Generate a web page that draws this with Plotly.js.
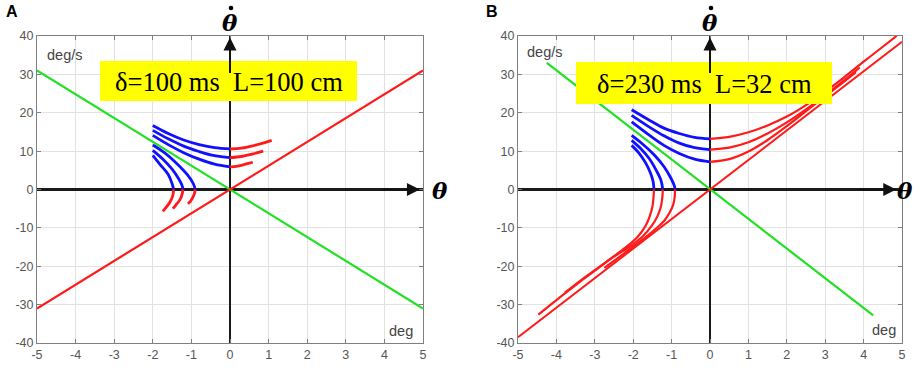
<!DOCTYPE html>
<html>
<head>
<meta charset="utf-8">
<script src="https://cdn.plot.ly/plotly-3.0.1.min.js"></script>
<style>html,body{margin:0;padding:0;background:#fff;}#chart{width:915px;height:372px;}</style>
</head>
<body>
<div id="chart"></div>
<script>
// ---------- Data ----------
// Panel A: straight lines
var A_green_x = [-5, 5];
var A_green_y = [31, -31];
var A_red_x = [-5, 5];
var A_red_y = [-31, 31];

// Panel A: upper blue trajectories (reach theta=0) and red continuations
var A_up1_blue_x = [-2, -1.6, -1.2, -0.8, -0.4, 0];
var A_up1_blue_y = [16.7, 14.6, 12.9, 11.7, 10.9, 10.6];
var A_up1_red_x = [0, 0.3, 0.6, 0.9, 1.08];
var A_up1_red_y = [10.6, 10.8, 11.4, 12.2, 12.8];
var A_up2_blue_x = [-2, -1.6, -1.2, -0.8, -0.4, 0];
var A_up2_blue_y = [15.4, 13.2, 11.3, 9.9, 8.8, 8.3];
var A_up2_red_x = [0, 0.3, 0.6, 0.86];
var A_up2_red_y = [8.3, 8.6, 9.3, 10.0];
var A_up3_blue_x = [-2, -1.6, -1.2, -0.8, -0.4, 0];
var A_up3_blue_y = [14.1, 11.7, 9.6, 7.9, 6.6, 5.9];
var A_up3_red_x = [0, 0.2, 0.4, 0.59];
var A_up3_red_y = [5.9, 6.1, 6.6, 7.1];

// Panel A: lower blue trajectories (turn back) and red continuations
var A_lo1_blue_x = [-2, -1.7, -1.4, -1.1, -0.95, -0.9];
var A_lo1_blue_y = [11.6, 9.6, 7.0, 3.8, 1.5, 0];
var A_lo1_red_x = [-0.9, -0.92, -0.97, -1.02, -1.09];
var A_lo1_red_y = [0, -1.0, -2.2, -3.0, -3.7];
var A_lo2_blue_x = [-2, -1.75, -1.5, -1.33, -1.24, -1.22];
var A_lo2_blue_y = [10.2, 8.0, 5.3, 2.8, 1.0, 0];
var A_lo2_red_x = [-1.22, -1.24, -1.3, -1.4, -1.48];
var A_lo2_red_y = [0, -1.2, -2.7, -4.0, -5.0];
var A_lo3_blue_x = [-2, -1.81, -1.6, -1.5, -1.46];
var A_lo3_blue_y = [8.9, 6.5, 3.9, 1.5, 0];
var A_lo3_red_x = [-1.46, -1.48, -1.55, -1.65, -1.74];
var A_lo3_red_y = [0, -1.5, -3.2, -4.6, -5.7];

// Panel B: straight lines
var B_green_x = [-4.25, 4.25];
var B_green_y = [33, -32.8];
var B_red_x = [-5, 5];
var B_red_y = [-38.5, 38.5];

// Panel B: upper blue trajectories and red continuations
var B_up1_blue_x = [-2.04, -1.6, -1.2, -0.8, -0.4, 0];
var B_up1_blue_y = [20.8, 18.2, 16.0, 14.6, 13.6, 13.2];
var B_up1_red_x = [0, 0.5, 1.0, 1.5, 2.0, 2.5, 3.0, 3.5, 4.0, 4.5, 4.86];
var B_up1_red_y = [13.2, 13.7, 14.9, 16.7, 19.0, 22.0, 25.5, 29.3, 33.3, 37.2, 40];
var B_up2_blue_x = [-2.04, -1.6, -1.2, -0.8, -0.4, 0];
var B_up2_blue_y = [19.3, 16.4, 14.0, 12.1, 10.9, 10.4];
var B_up2_red_x = [0, 0.5, 1.0, 1.5, 2.0, 2.5, 3.0, 3.5, 3.9];
var B_up2_red_y = [10.4, 10.9, 12.3, 14.6, 17.5, 20.9, 24.6, 28.5, 31.8];
var B_up3_blue_x = [-2.04, -1.6, -1.2, -0.8, -0.4, 0];
var B_up3_blue_y = [17.6, 14.3, 11.5, 9.4, 7.9, 7.2];
var B_up3_red_x = [0, 0.5, 1.0, 1.5, 2.0, 2.5, 3.0, 3.5, 3.8];
var B_up3_red_y = [7.2, 7.9, 9.9, 12.9, 16.5, 20.4, 24.3, 28.2, 30.6];

// Panel B: lower blue trajectories and red continuations
var B_lo1_blue_x = [-2.04, -1.75, -1.45, -1.2, -1.02, -0.93, -0.91];
var B_lo1_blue_y = [14.1, 11.8, 9.0, 6.0, 3.0, 1.0, 0];
var B_lo1_red_x = [-0.91, -0.92, -0.96, -1.05, -1.18, -1.33, -1.6, -1.95, -2.35, -2.75];
var B_lo1_red_y = [0, -2, -4, -6, -8, -9.5, -11.8, -14.5, -17.5, -20.4];
var B_lo2_blue_x = [-2.04, -1.8, -1.58, -1.4, -1.28, -1.23];
var B_lo2_blue_y = [12.8, 10.6, 8.0, 5.0, 2.5, 0];
var B_lo2_red_x = [-1.23, -1.24, -1.28, -1.37, -1.52, -1.75, -2.08, -2.5, -2.95, -3.38, -3.78];
var B_lo2_red_y = [0, -2, -4.5, -7, -9.5, -12.2, -14.8, -17.5, -20.7, -23.8, -26.9];
var B_lo3_blue_x = [-2.04, -1.85, -1.68, -1.55, -1.48, -1.46];
var B_lo3_blue_y = [11.5, 9.5, 7.0, 4.3, 2.0, 0];
var B_lo3_red_x = [-1.46, -1.47, -1.5, -1.57, -1.68, -1.9, -2.25, -2.65, -3.05, -3.55, -4.0, -4.47];
var B_lo3_red_y = [0, -2, -4.5, -7, -9.5, -12.5, -15.5, -18.5, -21.5, -25.3, -28.8, -32.6];

// Tick values / labels
var xTicks = [-5, -4, -3, -2, -1, 0, 1, 2, 3, 4, 5];
var yTicks = [-40, -30, -20, -10, 0, 10, 20, 30, 40];
var panelLetters = ['A', 'B'];
var boxTexts = ['\u03b4=100\u00a0ms\u00a0\u00a0L=100\u00a0cm', '\u03b4=230\u00a0ms\u00a0\u00a0L=32\u00a0cm'];

// ---------- Styles ----------
var RED = '#ff1a1a', BLUE = '#1010ff', GREEN = '#22e022';
var W = 915, H = 372;
function px(x) { return x / W; }
function py(y) { return 1 - y / H; }

var traces = [];
function addLine(x, y, color, width, xa, ya, smooth) {
  traces.push({
    x: x, y: y, type: 'scatter', mode: 'lines',
    xaxis: xa, yaxis: ya, hoverinfo: 'skip', showlegend: false,
    line: { color: color, width: width, shape: smooth ? 'spline' : 'linear', smoothing: 1 }
  });
}

// Panel A
addLine(A_green_x, A_green_y, GREEN, 2.2, 'x', 'y', false);
addLine(A_red_x, A_red_y, RED, 2.2, 'x', 'y', false);
[[A_up1_blue_x, A_up1_blue_y, A_up1_red_x, A_up1_red_y],
 [A_up2_blue_x, A_up2_blue_y, A_up2_red_x, A_up2_red_y],
 [A_up3_blue_x, A_up3_blue_y, A_up3_red_x, A_up3_red_y],
 [A_lo1_blue_x, A_lo1_blue_y, A_lo1_red_x, A_lo1_red_y],
 [A_lo2_blue_x, A_lo2_blue_y, A_lo2_red_x, A_lo2_red_y],
 [A_lo3_blue_x, A_lo3_blue_y, A_lo3_red_x, A_lo3_red_y]].forEach(function (c) {
  addLine(c[0], c[1], BLUE, 2.8, 'x', 'y', true);
  addLine(c[2], c[3], RED, 2.8, 'x', 'y', true);
});

// Panel B
addLine(B_green_x, B_green_y, GREEN, 2.2, 'x2', 'y2', false);
addLine(B_red_x, B_red_y, RED, 2.0, 'x2', 'y2', false);
[[B_up1_blue_x, B_up1_blue_y, B_up1_red_x, B_up1_red_y],
 [B_up2_blue_x, B_up2_blue_y, B_up2_red_x, B_up2_red_y],
 [B_up3_blue_x, B_up3_blue_y, B_up3_red_x, B_up3_red_y],
 [B_lo1_blue_x, B_lo1_blue_y, B_lo1_red_x, B_lo1_red_y],
 [B_lo2_blue_x, B_lo2_blue_y, B_lo2_red_x, B_lo2_red_y],
 [B_lo3_blue_x, B_lo3_blue_y, B_lo3_red_x, B_lo3_red_y]].forEach(function (c) {
  addLine(c[0], c[1], BLUE, 2.8, 'x2', 'y2', true);
  addLine(c[2], c[3], RED, 2.2, 'x2', 'y2', true);
});

function xAxis(dom, anchor) {
  return {
    domain: dom, anchor: anchor, range: [-5, 5], tickvals: xTicks,
    ticktext: xTicks.map(String), showgrid: true, gridcolor: '#e2e2e2', gridwidth: 1,
    zeroline: true, zerolinecolor: '#1a1a1a', zerolinewidth: 2.2,
    showline: true, linecolor: '#808080', linewidth: 1, mirror: 'ticks',
    ticks: 'inside', ticklen: 4, tickcolor: '#808080',
    tickfont: { family: 'Liberation Sans, Arial, sans-serif', size: 12.5, color: '#555' },
    fixedrange: true
  };
}
function yAxis(dom, anchor) {
  return {
    domain: dom, anchor: anchor, range: [-40, 40], tickvals: yTicks,
    ticktext: yTicks.map(String), showgrid: true, gridcolor: '#e2e2e2', gridwidth: 1,
    zeroline: true, zerolinecolor: '#1a1a1a', zerolinewidth: 2.2,
    showline: true, linecolor: '#808080', linewidth: 1, mirror: 'ticks',
    ticks: 'inside', ticklen: 4, tickcolor: '#808080',
    tickfont: { family: 'Liberation Sans, Arial, sans-serif', size: 12.5, color: '#555' },
    fixedrange: true
  };
}

var yDom = [py(343), py(36)];
var layout = {
  width: W, height: H, margin: { l: 0, r: 0, t: 0, b: 0 },
  paper_bgcolor: '#fff', plot_bgcolor: '#fff', showlegend: false,
  xaxis: xAxis([px(37), px(423)], 'y'),
  yaxis: yAxis(yDom, 'x'),
  xaxis2: xAxis([px(518), px(902)], 'y2'),
  yaxis2: yAxis(yDom, 'x2'),
  shapes: [], annotations: []
};

function txt(x, y, text, opts) {
  layout.annotations.push({
    xref: 'paper', yref: 'paper', x: px(x), y: py(y), text: text, showarrow: false,
    xanchor: opts.xanchor || 'center', yanchor: opts.yanchor || 'middle',
    font: opts.font
  });
}
function arrow(xa, ya, x, y, ax, ay) {
  layout.annotations.push({
    xref: xa, yref: ya, axref: xa, ayref: ya, x: x, y: y, ax: ax, ay: ay, text: '',
    showarrow: true, arrowhead: 2, arrowsize: 1.3, arrowwidth: 2, arrowcolor: '#111', standoff: 0
  });
}

var panels = [
  { xa: 'x', ya: 'y', zeroX: 230, letterX: 12, thetaX: 430, thetaAnchor: 'left', box: [100, 61, 357, 101], degs: 45, degsY: 55, deg: 415, degY: 331, arrowTip: 4.92 },
  { xa: 'x2', ya: 'y2', zeroX: 710, letterX: 492, thetaX: 915, thetaAnchor: 'right', box: [576, 62, 832, 104], degs: 525, degsY: 52, deg: 898, degY: 330, arrowTip: 4.85 }
];
var labelFont = { family: 'Liberation Sans, Arial, sans-serif', size: 14.5, color: '#444' };
var symFont = { family: 'DejaVu Serif, serif', size: 23, color: '#000', weight: 'bold', style: 'italic' };
panels.forEach(function (p, i) {
  // yellow box
  layout.shapes.push({
    type: 'rect', xref: 'paper', yref: 'paper', x0: px(p.box[0]), x1: px(p.box[2]),
    y0: py(p.box[3]), y1: py(p.box[1]), fillcolor: '#ffff00', line: { width: 0 }, layer: 'above'
  });
  txt((p.box[0] + p.box[2]) / 2, (p.box[1] + p.box[3]) / 2 + 1, boxTexts[i],
    { font: { family: 'Liberation Serif, Times New Roman, serif', size: 26.5, color: '#000' } });
  // panel letter
  txt(p.letterX, 12, panelLetters[i], { font: { family: 'Liberation Sans, Arial, sans-serif', size: 16, color: '#000', weight: 'bold' } });
  // units
  txt(p.degs, p.degsY, 'deg/s', { xanchor: 'left', font: labelFont });
  txt(p.deg, p.degY, 'deg', { xanchor: 'right', font: labelFont });
  // axis symbols: theta-dot (theta with a dot above, dot drawn as a small disc) and theta
  txt(p.zeroX, 23, '\u03b8', { font: symFont });
  layout.shapes.push({
    type: 'circle', xref: 'paper', yref: 'paper',
    x0: px(p.zeroX - 1.3), x1: px(p.zeroX + 3.3), y0: py(10.3), y1: py(5.7),
    fillcolor: '#000', line: { width: 0 }, layer: 'above'
  });
  txt(p.thetaX, 190, '\u03b8', { xanchor: p.thetaAnchor, font: symFont });
  // arrows on the zero axes
  arrow(p.xa, p.ya, 0, 39.6, 0, 30);
  arrow(p.xa, p.ya, p.arrowTip, 0, p.arrowTip - 1, 0);
});

Plotly.newPlot('chart', traces, layout, { displayModeBar: false, staticPlot: true });
</script>
</body>
</html>
